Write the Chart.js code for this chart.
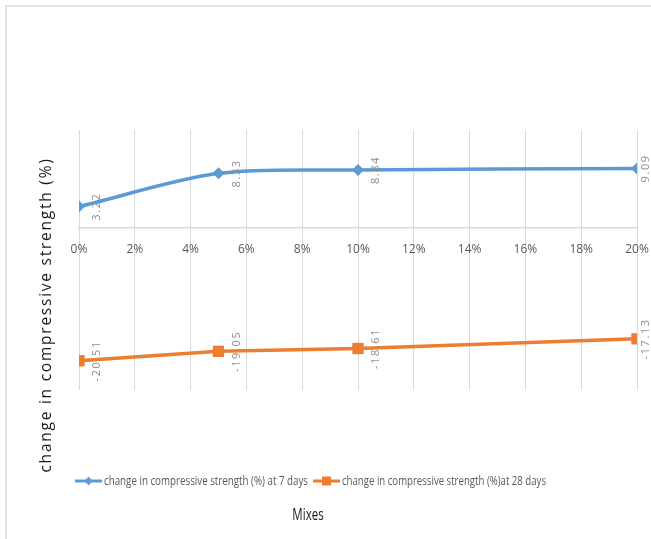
<!DOCTYPE html>
<html>
<head>
<meta charset="utf-8">
<script src="https://cdn.jsdelivr.net/npm/chart.js@4.4.1/dist/chart.umd.min.js"></script>
<style>
  html, body { margin: 0; padding: 0; background: #fff; }
  canvas { display: block; }
</style>
</head>
<body>
<canvas id="c" width="651" height="539"></canvas>
<script>
// Mix replacement level (%) and change in compressive strength (%)
const mixes = [0, 5, 10, 20];
const strength7 = [3.22, 8.33, 8.84, 9.09];
const strength28 = [-20.51, -19.05, -18.61, -17.13];
const seriesNames = [
  'change in compressive strength (%) at 7 days',
  'change in compressive strength (%)at 28 days'
];
const xTickStep = 2;
const xMin = 0, xMax = 20;
const yMin = -25, yMax = 15;

const BLUE = '#5b9bd5';
const ORANGE = '#ed7d31';
const GRID = '#d9d9d9';

function toPoints(values) {
  return mixes.map((m, i) => ({ x: m, y: values[i] }));
}

// Frame, axis titles and the line-with-marker legend
const decorations = {
  id: 'decorations',
  beforeDraw(chart) {
    const ctx = chart.ctx;
    ctx.save();
    ctx.fillStyle = '#fff';
    ctx.fillRect(0, 0, chart.width, chart.height);
    ctx.strokeStyle = GRID;
    ctx.lineWidth = 1.5;
    ctx.beginPath();
    ctx.moveTo(6, chart.height);
    ctx.lineTo(6, 6);
    ctx.lineTo(chart.width, 6);
    ctx.stroke();
    ctx.restore();
  },
  afterDraw(chart) {
    const ctx = chart.ctx;
    ctx.save();
    // vertical axis title
    ctx.font = '15.5px "Open Sans"';
    ctx.fillStyle = '#1a1a1a';
    ctx.textAlign = 'center';
    ctx.textBaseline = 'middle';
    const yTitle = 'change in compressive strength (%)';
    const w0 = ctx.measureText(yTitle).width;
    ctx.letterSpacing = Math.max(0, (315 - w0) / yTitle.length).toFixed(2) + 'px';
    ctx.translate(47, 315);
    ctx.rotate(-Math.PI / 2);
    ctx.fillText(yTitle, 0, 0);
    ctx.restore();

    // horizontal axis title
    ctx.save();
    ctx.font = '16px "Open Sans"';
    ctx.fillStyle = '#1a1a1a';
    ctx.textAlign = 'center';
    ctx.textBaseline = 'middle';
    ctx.translate(308, 515);
    ctx.scale(0.72, 1);
    ctx.fillText('Mixes', 0, 0);
    ctx.restore();

    // legend
    ctx.save();
    ctx.font = '13.5px "Open Sans"';
    ctx.fillStyle = '#595959';
    ctx.textBaseline = 'middle';
    const ly = 481;
    const starts = [75, 313];
    const textW = 204;
    chart.data.datasets.forEach((ds, i) => {
      const x0 = starts[i];
      ctx.strokeStyle = ds.borderColor;
      ctx.lineWidth = 3;
      ctx.beginPath();
      ctx.moveTo(x0, ly);
      ctx.lineTo(x0 + 27, ly);
      ctx.stroke();
      ctx.fillStyle = ds.borderColor;
      const mx = x0 + 13.5;
      ctx.beginPath();
      if (ds.pointStyle === 'rectRot') {
        ctx.moveTo(mx, ly - 4.5);
        ctx.lineTo(mx + 4, ly);
        ctx.lineTo(mx, ly + 4.5);
        ctx.lineTo(mx - 4, ly);
        ctx.closePath();
      } else {
        ctx.rect(mx - 4.5, ly - 4.5, 9, 9);
      }
      ctx.fill();
      ctx.fillStyle = '#595959';
      const tw = ctx.measureText(ds.label).width;
      ctx.save();
      ctx.translate(x0 + 29, ly);
      ctx.scale(textW / tw, 1);
      ctx.textAlign = 'left';
      ctx.fillText(ds.label, 0, 0);
      ctx.restore();
    });
    ctx.restore();
  }
};

// Value labels set sideways just right of each marker
const valueLabels = {
  id: 'valueLabels',
  afterDatasetsDraw(chart) {
    const ctx = chart.ctx;
    ctx.save();
    ctx.font = '11px "Open Sans"';
    ctx.letterSpacing = '1.6px';
    ctx.fillStyle = '#8c8c8c';
    ctx.textAlign = 'center';
    ctx.textBaseline = 'middle';
    chart.data.datasets.forEach((ds, di) => {
      const meta = chart.getDatasetMeta(di);
      meta.data.forEach((pt, i) => {
        const x = Math.min(pt.x + 18, chart.width - 5);
        ctx.save();
        ctx.translate(x, pt.y);
        ctx.rotate(-Math.PI / 2);
        ctx.fillText(String(ds.data[i].y), 0, 0);
        ctx.restore();
      });
    });
    ctx.restore();
  }
};

new Chart(document.getElementById('c'), {
  type: 'line',
  data: {
    datasets: [
      {
        label: seriesNames[0],
        data: toPoints(strength7),
        borderColor: BLUE,
        backgroundColor: BLUE,
        borderWidth: 3.5,
        pointStyle: 'rectRot',
        pointRadius: 6,
        pointBorderWidth: 0,
        tension: 0.3
      },
      {
        label: seriesNames[1],
        data: toPoints(strength28),
        borderColor: ORANGE,
        backgroundColor: ORANGE,
        borderWidth: 3.5,
        pointStyle: 'rect',
        pointRadius: 8,
        pointBorderWidth: 0,
        tension: 0
      }
    ]
  },
  options: {
    responsive: false,
    animation: false,
    events: [],
    layout: { padding: { left: 79, right: 14, top: 130, bottom: 149 } },
    plugins: {
      legend: { display: false },
      tooltip: { enabled: false },
      title: { display: false }
    },
    scales: {
      x: {
        type: 'linear',
        position: { y: 0 },
        min: xMin,
        max: xMax,
        afterFit(scale) {
          scale.height = 0;
          scale.paddingLeft = 0;
          scale.paddingRight = 0;
          scale.paddingTop = 0;
          scale.paddingBottom = 0;
        },
        grid: { color: GRID, lineWidth: 1, drawTicks: false },
        border: { color: GRID, width: 1.5 },
        ticks: {
          stepSize: xTickStep,
          padding: 15,
          color: '#595959',
          font: { family: 'Open Sans', size: 12 },
          maxRotation: 0,
          callback: v => v + '%'
        }
      },
      y: {
        type: 'linear',
        min: yMin,
        max: yMax,
        display: false
      }
    }
  },
  plugins: [decorations, valueLabels]
});
</script>
</body>
</html>
